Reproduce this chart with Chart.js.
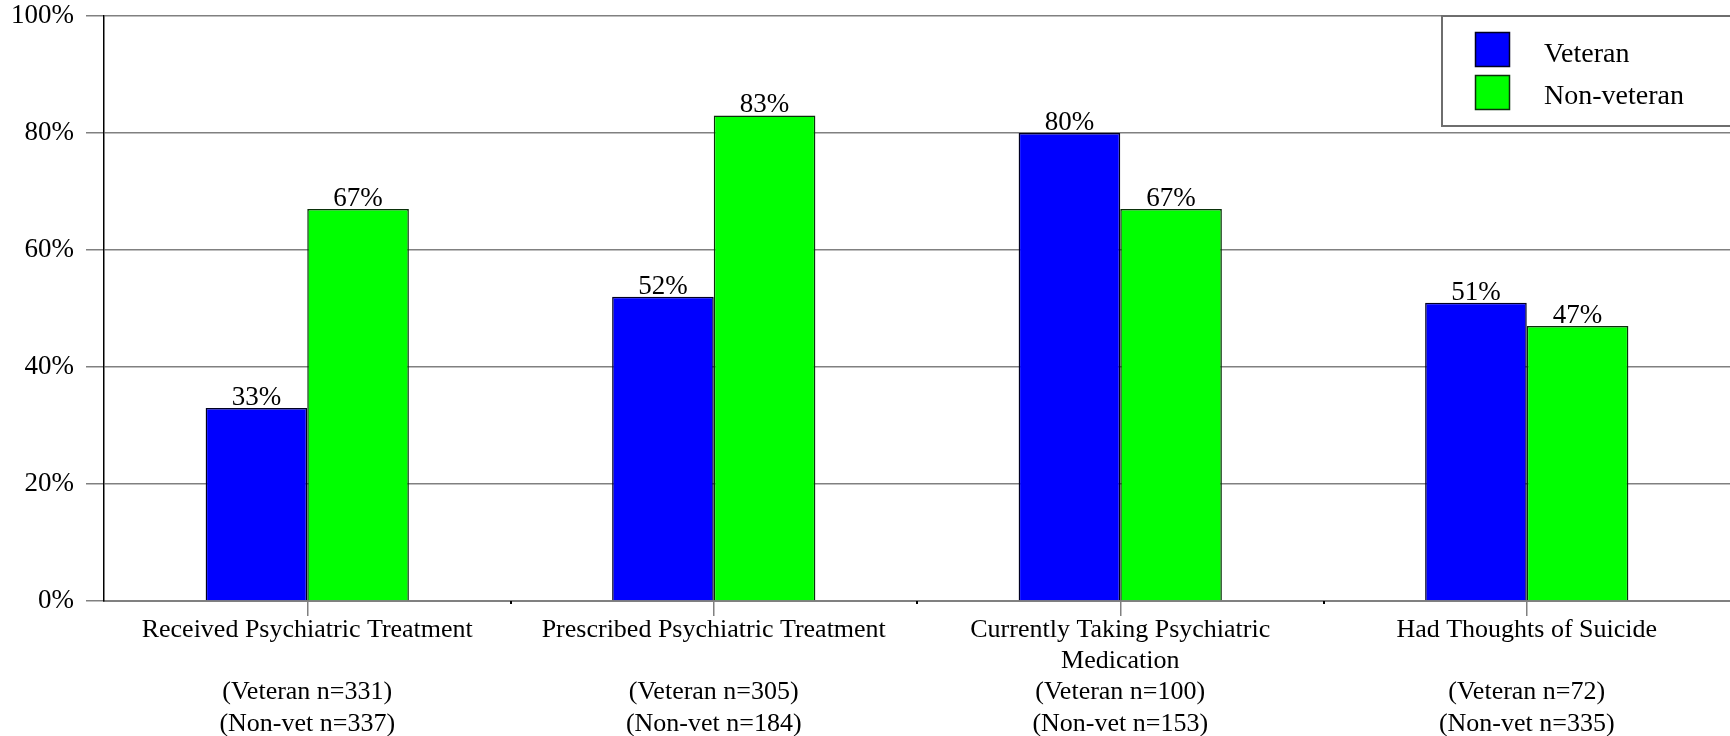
<!DOCTYPE html>
<html>
<head>
<meta charset="utf-8">
<script src="https://cdn.jsdelivr.net/npm/chart.js@4/dist/chart.umd.min.js"></script>
<style>
  html, body { margin: 0; padding: 0; background: #fff; }
  #wrap { width: 1730px; height: 736px; }
</style>
</head>
<body>
<div id="wrap"><canvas id="c" width="1730" height="736"></canvas></div>
<script>
// Survey measures by group (percent of respondents)
const categories = [
  ["Received Psychiatric Treatment", "", "(Veteran n=331)", "(Non-vet n=337)"],
  ["Prescribed Psychiatric Treatment", "", "(Veteran n=305)", "(Non-vet n=184)"],
  ["Currently Taking Psychiatric", "Medication", "(Veteran n=100)", "(Non-vet n=153)"],
  ["Had Thoughts of Suicide", "", "(Veteran n=72)", "(Non-vet n=335)"]
];
const seriesNames = ["Veteran", "Non-veteran"];
const veteran = [33, 52, 80, 51];
const nonVeteran = [67, 83, 67, 47];
const yTicks = [0, 20, 40, 60, 80, 100];

const SERIF = "'Liberation Serif', 'Times New Roman', serif";
const GRID = '#808080';

// Percent labels above each bar
const valueLabels = {
  id: 'valueLabels',
  afterDatasetsDraw(chart) {
    const ctx = chart.ctx;
    ctx.save();
    ctx.font = '27px ' + SERIF;
    ctx.fillStyle = '#000';
    ctx.textAlign = 'center';
    ctx.textBaseline = 'alphabetic';
    chart.data.datasets.forEach((ds, i) => {
      chart.getDatasetMeta(i).data.forEach((bar, j) => {
        ctx.fillText(ds.data[j] + '%', bar.x, bar.y - 3);
      });
    });
    ctx.restore();
  }
};

// Small marks on the category axis between groups
const boundaryMarks = {
  id: 'boundaryMarks',
  afterDraw(chart) {
    const x = chart.scales.x;
    const ctx = chart.ctx;
    ctx.save();
    ctx.strokeStyle = '#000';
    ctx.lineWidth = 2;
    for (let i = 1; i < categories.length; i++) {
      const px = Math.round((x.getPixelForTick(i - 1) + x.getPixelForTick(i)) / 2);
      ctx.beginPath();
      ctx.moveTo(px, x.top);
      ctx.lineTo(px, x.top + 3);
      ctx.stroke();
    }
    ctx.restore();
  }
};

// Boxed legend in the upper right of the plot
const boxLegend = {
  id: 'boxLegend',
  afterDraw(chart) {
    const ctx = chart.ctx;
    const area = chart.chartArea;
    const left = 1442, top = area.top, bottom = 126;
    ctx.save();
    ctx.fillStyle = '#fff';
    ctx.fillRect(left, top, chart.width - left + 2, bottom - top);
    ctx.strokeStyle = '#6e6e6e';
    ctx.lineWidth = 2;
    ctx.strokeRect(left, top, chart.width - left + 4, bottom - top);
    ctx.font = '28px ' + SERIF;
    ctx.textBaseline = 'alphabetic';
    ctx.textAlign = 'left';
    chart.data.datasets.forEach((ds, i) => {
      const sy = 32 + i * 43;
      ctx.fillStyle = ds.backgroundColor;
      ctx.fillRect(1475, sy, 35, 35);
      ctx.strokeStyle = ds.borderColor;
      ctx.lineWidth = 1.5;
      ctx.strokeRect(1475.5, sy + 0.5, 34, 34);
      ctx.fillStyle = '#000';
      ctx.fillText(ds.label, 1544, 62 + i * 42);
    });
    ctx.restore();
  }
};

new Chart(document.getElementById('c'), {
  type: 'bar',
  data: {
    labels: categories,
    datasets: [
      { label: seriesNames[0], data: veteran, backgroundColor: '#0000ff', borderColor: '#000022', borderWidth: 1.5 },
      { label: seriesNames[1], data: nonVeteran, backgroundColor: '#00ff00', borderColor: '#0a300a', borderWidth: 1.5 }
    ]
  },
  options: {
    responsive: false,
    animation: false,
    devicePixelRatio: 1,
    layout: { padding: { top: 16, right: 0, left: 0, bottom: 0 } },
    datasets: { bar: { categoryPercentage: 0.5, barPercentage: 1.0 } },
    plugins: { legend: { display: false }, tooltip: { enabled: false } },
    scales: {
      x: {
        grid: { offset: false, drawOnChartArea: false, tickLength: 15, color: GRID, tickColor: GRID, lineWidth: 1.5 },
        border: { color: GRID, width: 2 },
        ticks: {
          color: '#000',
          font: { family: SERIF, size: 26, lineHeight: 1.21 },
          padding: -2,
          maxRotation: 0,
          autoSkip: false
        },
        afterFit(scale) { scale.height = 135; scale.paddingLeft = 0; scale.paddingRight = 0; }
      },
      y: {
        min: 0, max: 100,
        afterBuildTicks(scale) { scale.ticks = yTicks.map(v => ({ value: v })); },
        grid: { color: GRID, lineWidth: 1.5, tickLength: 18 },
        border: { color: '#000', width: 1.5 },
        ticks: {
          color: '#000',
          font: { family: SERIF, size: 27 },
          padding: 12,
          callback: v => v + '%'
        },
        afterFit(scale) { scale.width = 104; scale.paddingTop = 0; scale.paddingBottom = 0; }
      }
    }
  },
  plugins: [valueLabels, boundaryMarks, boxLegend]
});
</script>
</body>
</html>
